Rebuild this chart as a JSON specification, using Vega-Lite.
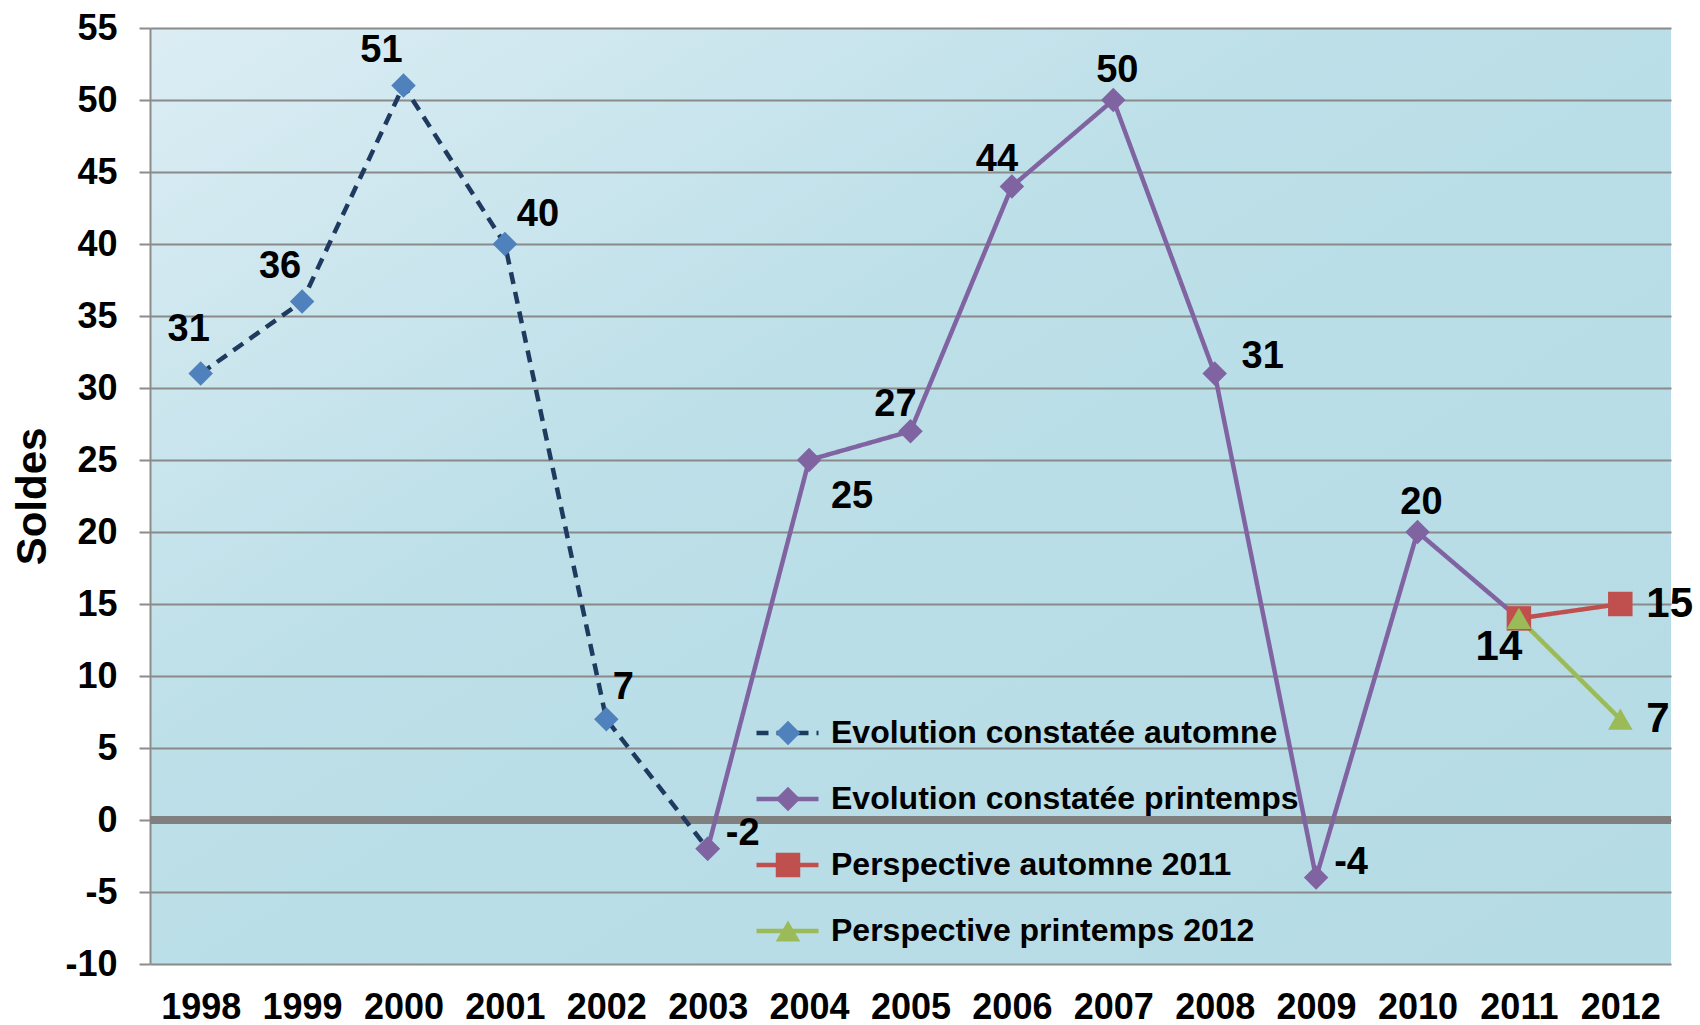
{
  "$schema": "https://vega.github.io/schema/vega-lite/v6.json",
  "width": 1521,
  "height": 936,
  "autosize": {"type": "none"},
  "padding": {"left": 150, "top": 28, "right": 29, "bottom": 61},
  "background": "white",
  "config": {
    "font": "Liberation Sans",
    "view": {
      "stroke": null,
      "fill": {"gradient": "linear", "x1": 0, "y1": 0, "x2": 1, "y2": 1,
        "stops": [{"offset": 0, "color": "#dcedf4"}, {"offset": 0.4, "color": "#bcdfe8"}, {"offset": 1, "color": "#b5dbe5"}]}
    },
    "axis": {"labelFont": "Liberation Sans", "labelFontWeight": "bold", "labelColor": "#000000", "titleFont": "Liberation Sans"}
  },
  "data": {
    "values": [
      {"year": "1998", "value": 31, "series": "Evolution constatée automne", "marker": "Evolution constatée automne", "pos": "nw_hi"},
      {"year": "1999", "value": 36, "series": "Evolution constatée automne", "marker": "Evolution constatée automne", "pos": "nw"},
      {"year": "2000", "value": 51, "series": "Evolution constatée automne", "marker": "Evolution constatée automne", "pos": "nw"},
      {"year": "2001", "value": 40, "series": "Evolution constatée automne", "marker": "Evolution constatée automne", "pos": "ne"},
      {"year": "2002", "value": 7, "series": "Evolution constatée automne", "marker": "Evolution constatée automne", "pos": "ne_lo"},
      {"year": "2003", "value": -2, "series": "Evolution constatée automne", "marker": "Evolution constatée automne", "pos": null},
      {"year": "2003", "value": -2, "series": "Evolution constatée printemps", "marker": "Evolution constatée printemps", "pos": "e"},
      {"year": "2004", "value": 25, "series": "Evolution constatée printemps", "marker": "Evolution constatée printemps", "pos": "se"},
      {"year": "2005", "value": 27, "series": "Evolution constatée printemps", "marker": "Evolution constatée printemps", "pos": "nw_lo"},
      {"year": "2006", "value": 44, "series": "Evolution constatée printemps", "marker": "Evolution constatée printemps", "pos": "nw_lo"},
      {"year": "2007", "value": 50, "series": "Evolution constatée printemps", "marker": "Evolution constatée printemps", "pos": "n"},
      {"year": "2008", "value": 31, "series": "Evolution constatée printemps", "marker": "Evolution constatée printemps", "pos": "e_far"},
      {"year": "2009", "value": -4, "series": "Evolution constatée printemps", "marker": "Evolution constatée printemps", "pos": "e"},
      {"year": "2010", "value": 20, "series": "Evolution constatée printemps", "marker": "Evolution constatée printemps", "pos": "n"},
      {"year": "2011", "value": 14, "series": "Evolution constatée printemps", "marker": "Evolution constatée printemps", "pos": "sw"},
      {"year": "2011", "value": 14, "series": "Perspective automne 2011", "marker": "Perspective automne 2011", "pos": null},
      {"year": "2012", "value": 15, "series": "Perspective automne 2011", "marker": "Perspective automne 2011", "pos": "e_big"},
      {"year": "2011", "value": 14, "series": "Perspective printemps 2012", "marker": "Perspective printemps 2012", "pos": null},
      {"year": "2012", "value": 7, "series": "Perspective printemps 2012", "marker": "Perspective printemps 2012", "pos": "e_big"}
    ]
  },
  "encoding": {
    "x": {
      "field": "year", "type": "ordinal",
      "scale": {"type": "point", "padding": 0.5},
      "axis": {"title": null, "labelAngle": 0, "labelFontSize": 36, "domain": false, "ticks": false, "grid": false, "labelPadding": 26, "labelOverlap": false}
    },
    "y": {
      "field": "value", "type": "quantitative",
      "scale": {"domain": [-10, 55], "nice": false, "zero": false},
      "axis": {
        "title": "Soldes", "titleFontSize": 42, "titleFontWeight": "bold", "titleColor": "#000000", "titlePadding": 10,
        "values": [-10, -5, 0, 5, 10, 15, 20, 25, 30, 35, 40, 45, 50, 55],
        "labelExpr": "'' + datum.value",
        "labelFontSize": 36, "labelPadding": 22,
        "tickSize": 11, "tickColor": "#8c8c8c", "tickWidth": 2,
        "domain": true, "domainColor": "#8c8c8c", "domainWidth": 2,
        "grid": true, "gridColor": "#8a8a8a", "gridWidth": 2, "gridOpacity": 1
      }
    }
  },
  "layer": [
    {
      "mark": {"type": "rule", "color": "#808080", "strokeWidth": 7},
      "encoding": {"y": {"datum": 0}, "x": null}
    },
    {
      "mark": {"type": "line", "strokeWidth": 4.5},
      "encoding": {
        "color": {
          "field": "series", "type": "nominal",
          "scale": {"range": ["#1F3A5F", "#8064A2", "#C0504D", "#9BBB59"]},
          "legend": {
            "orient": "none", "legendX": 604, "legendY": 685, "title": null, "padding": 0,
            "symbolType": "stroke", "symbolSize": 3844, "symbolStrokeWidth": 4.5,
            "labelFont": "Liberation Sans", "labelFontSize": 32, "labelFontWeight": "bold", "labelColor": "#000000",
            "labelOffset": 10, "labelLimit": 1000, "rowPadding": 26, "clipHeight": 40
          }
        },
        "strokeDash": {
          "field": "series", "type": "nominal",
          "scale": {"range": [[12, 8], [1, 0], [1, 0], [1, 0]]}
        }
      }
    },
    {
      "mark": {"type": "point", "filled": true, "opacity": 1, "strokeWidth": 0},
      "encoding": {
        "fill": {
          "field": "marker", "type": "nominal",
          "scale": {"range": ["#4F81BD", "#8064A2", "#C0504D", "#9BBB59"]},
          "legend": {
            "orient": "none", "legendX": 604, "legendY": 685, "title": null, "padding": 0,
            "symbolOffset": 18, "symbolOpacity": 1, "symbolSize": 600, "symbolStrokeWidth": 0,
            "labelExpr": "''", "labelFontSize": 32,
            "labelOffset": 56, "labelLimit": 1000, "rowPadding": 26, "clipHeight": 40
          }
        },
        "shape": {
          "field": "marker", "type": "nominal",
          "scale": {"range": ["diamond", "diamond", "square", "triangle-up"]}
        },
        "size": {
          "field": "series", "type": "nominal",
          "scale": {"range": [600, 600, 450, 600]},
          "legend": null
        }
      }
    },
    {"transform": [{"filter": {"field": "pos", "equal": "nw_hi"}}], "mark": {"type": "text", "font": "Liberation Sans", "fontWeight": "bold", "fontSize": 38, "color": "#000000", "baseline": "middle", "dx": -12, "dy": -44}, "encoding": {"text": {"field": "value"}}},
    {"transform": [{"filter": {"field": "pos", "equal": "nw"}}], "mark": {"type": "text", "font": "Liberation Sans", "fontWeight": "bold", "fontSize": 38, "color": "#000000", "baseline": "middle", "dx": -22, "dy": -35}, "encoding": {"text": {"field": "value"}}},
    {"transform": [{"filter": {"field": "pos", "equal": "nw_lo"}}], "mark": {"type": "text", "font": "Liberation Sans", "fontWeight": "bold", "fontSize": 38, "color": "#000000", "baseline": "middle", "dx": -15, "dy": -26}, "encoding": {"text": {"field": "value"}}},
    {"transform": [{"filter": {"field": "pos", "equal": "n"}}], "mark": {"type": "text", "font": "Liberation Sans", "fontWeight": "bold", "fontSize": 38, "color": "#000000", "baseline": "middle", "dx": 4, "dy": -29}, "encoding": {"text": {"field": "value"}}},
    {"transform": [{"filter": {"field": "pos", "equal": "ne"}}], "mark": {"type": "text", "font": "Liberation Sans", "fontWeight": "bold", "fontSize": 38, "color": "#000000", "baseline": "middle", "dx": 33, "dy": -29}, "encoding": {"text": {"field": "value"}}},
    {"transform": [{"filter": {"field": "pos", "equal": "ne_lo"}}], "mark": {"type": "text", "font": "Liberation Sans", "fontWeight": "bold", "fontSize": 38, "color": "#000000", "baseline": "middle", "dx": 17, "dy": -31}, "encoding": {"text": {"field": "value"}}},
    {"transform": [{"filter": {"field": "pos", "equal": "e"}}], "mark": {"type": "text", "font": "Liberation Sans", "fontWeight": "bold", "fontSize": 38, "color": "#000000", "baseline": "middle", "dx": 35, "dy": -15}, "encoding": {"text": {"field": "value"}}},
    {"transform": [{"filter": {"field": "pos", "equal": "e_far"}}], "mark": {"type": "text", "font": "Liberation Sans", "fontWeight": "bold", "fontSize": 38, "color": "#000000", "baseline": "middle", "dx": 48, "dy": -17}, "encoding": {"text": {"field": "value"}}},
    {"transform": [{"filter": {"field": "pos", "equal": "se"}}], "mark": {"type": "text", "font": "Liberation Sans", "fontWeight": "bold", "fontSize": 38, "color": "#000000", "baseline": "middle", "dx": 43, "dy": 37}, "encoding": {"text": {"field": "value"}}},
    {"transform": [{"filter": {"field": "pos", "equal": "sw"}}], "mark": {"type": "text", "font": "Liberation Sans", "fontWeight": "bold", "fontSize": 42, "color": "#000000", "baseline": "middle", "dx": -20, "dy": 29}, "encoding": {"text": {"field": "value"}}},
    {"transform": [{"filter": {"field": "pos", "equal": "e_big"}}], "mark": {"type": "text", "font": "Liberation Sans", "fontWeight": "bold", "fontSize": 42, "color": "#000000", "baseline": "middle", "align": "left", "dx": 26, "dy": 0}, "encoding": {"text": {"field": "value"}}}
  ]
}
